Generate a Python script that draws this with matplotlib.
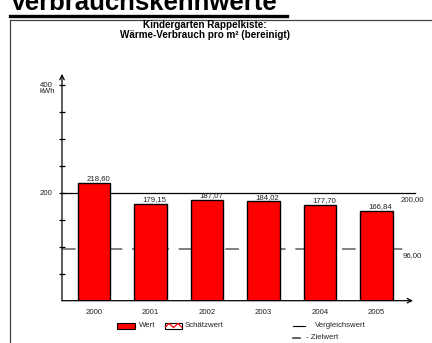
import matplotlib
matplotlib.use("Agg")
import matplotlib.pyplot as plt
from matplotlib.patches import Rectangle
from matplotlib.lines import Line2D

plt.rcParams["font.family"] = ["Liberation Sans", "DejaVu Sans"]

YEARS = ["2000", "2001", "2002", "2003", "2004", "2005"]
VALUES = [218.60, 179.15, 187.07, 184.02, 177.70, 166.84]
REFERENCE_VALUE = 200.00
TARGET_VALUE = 96.00
Y_LABELS = ["200", "400"]

W, H = 432, 343
TEXT = "#222222"
SMALL = 5.6


def fx(px):
    return px / W


def fy(py):
    return 1 - py / H


def fmt(value):
    return f"{value:.2f}".replace(".", ",")


fig = plt.figure(figsize=(W / 100, H / 100), dpi=100)

# page header, partially cut by the top edge
fig.text(fx(10), fy(10.5), "Verbrauchskennwerte", fontsize=18.5, fontweight="bold",
         ha="left", va="baseline")
fig.add_artist(Line2D([fx(10), fx(287)], [fy(15.5), fy(15.5)], color="black", lw=2.4))

# frame around the chart
fig.add_artist(Line2D([fx(10), fx(432)], [fy(20), fy(20)], color="#444444", lw=0.9))
fig.add_artist(Line2D([fx(10), fx(10)], [fy(20), fy(343)], color="#444444", lw=0.9))

fig.text(fx(205), fy(28.5), "Kindergarten Rappelkiste:", fontsize=7.1, fontweight="bold",
         ha="center", va="baseline")
fig.text(fx(205), fy(38.5), "Wärme-Verbrauch pro m² (bereinigt)", fontsize=7.1, fontweight="bold",
         ha="center", va="baseline")

ax = fig.add_axes([fx(62), fy(300.7), (413 - 62) / W, 226.8 / H])
positions = list(range(len(YEARS)))
ax.set_xlim(-0.566, 5.646)
ax.set_ylim(0, 420)
ax.bar(positions, VALUES, width=0.58, color="#ff0000", edgecolor="black", lw=1.0, zorder=3)
for pos, value in zip(positions, VALUES):
    ax.annotate(fmt(value), xy=(pos, value), xytext=(3, 0.4), textcoords="offset points",
                ha="center", va="bottom", fontsize=SMALL, color=TEXT)

ax.axhline(REFERENCE_VALUE, color="black", lw=0.9, zorder=2, clip_on=False, xmax=1.006)
ax.axhline(TARGET_VALUE, color="#808080", lw=1.4, dashes=(7, 5), zorder=2, clip_on=False,
           xmax=0.985)
right_x = (401 - 62) / 351
ax.annotate(fmt(REFERENCE_VALUE), xy=(right_x, REFERENCE_VALUE), xycoords=ax.get_yaxis_transform(),
            xytext=(0, -6), textcoords="offset points", ha="left", va="baseline",
            fontsize=SMALL, color=TEXT, annotation_clip=False)
ax.annotate(fmt(TARGET_VALUE), xy=(right_x, TARGET_VALUE), xycoords=ax.get_yaxis_transform(),
            xytext=(1.5, -6), textcoords="offset points", ha="left", va="baseline",
            fontsize=SMALL, color=TEXT, annotation_clip=False)

for side in ["top", "right", "left", "bottom"]:
    ax.spines[side].set_visible(False)
ax.annotate("", xy=(0, 1), xytext=(0, 0), xycoords="axes fraction",
            arrowprops=dict(arrowstyle="->", lw=0.9, color="black", shrinkA=0, shrinkB=0,
                            mutation_scale=8))
ax.annotate("", xy=(1, 0), xytext=(0, 0), xycoords="axes fraction",
            arrowprops=dict(arrowstyle="->", lw=0.9, color="black", shrinkA=0, shrinkB=0,
                            mutation_scale=8))

ax.set_yticks([200, 400])
ax.set_yticklabels(Y_LABELS)
ax.set_yticks([50, 100, 150, 250, 300, 350], minor=True)
ax.tick_params(axis="y", which="both", direction="inout", length=4.8, width=0.9,
               labelsize=SMALL, pad=4.5, labelcolor=TEXT)
fig.text(fx(47), fy(92), "kWh", ha="center", va="center", fontsize=SMALL, color=TEXT)
ax.set_xticks(positions)
ax.set_xticklabels(YEARS)
ax.tick_params(axis="x", length=0, labelsize=SMALL, pad=6, labelcolor=TEXT)

# legend row
fig.add_artist(Rectangle((fx(117), fy(328.5)), (135 - 117) / W, 6 / H, facecolor="#ff0000",
                         edgecolor="black", lw=0.8))
fig.text(fx(138.5), fy(325.5), "Wert", fontsize=SMALL, ha="left", va="center", color=TEXT)
fig.add_artist(Rectangle((fx(165), fy(328.5)), (182 - 165) / W, 6 / H, facecolor="white",
                         edgecolor="black", lw=0.8))
fig.add_artist(Line2D([fx(x) for x in (165.5, 169, 173.5, 178, 181.5)],
                      [fy(y) for y in (327, 323.5, 327.5, 323.5, 327)], color="#ff0000", lw=0.9))
fig.text(fx(184.5), fy(325.5), "Schätzwert", fontsize=SMALL, ha="left", va="center", color=TEXT)
fig.add_artist(Line2D([fx(293), fx(305)], [fy(325.5), fy(325.5)], color="black", lw=0.8))
fig.text(fx(315), fy(325.5), "Vergleichswert", fontsize=SMALL, ha="left", va="center", color=TEXT)
fig.add_artist(Line2D([fx(293), fx(299.5)], [fy(338), fy(338)], color="#444444", lw=1.2))
fig.text(fx(306.5), fy(337.5), "- Zielwert", fontsize=SMALL, ha="left", va="center", color=TEXT)

fig.savefig("out.png", dpi=100)
